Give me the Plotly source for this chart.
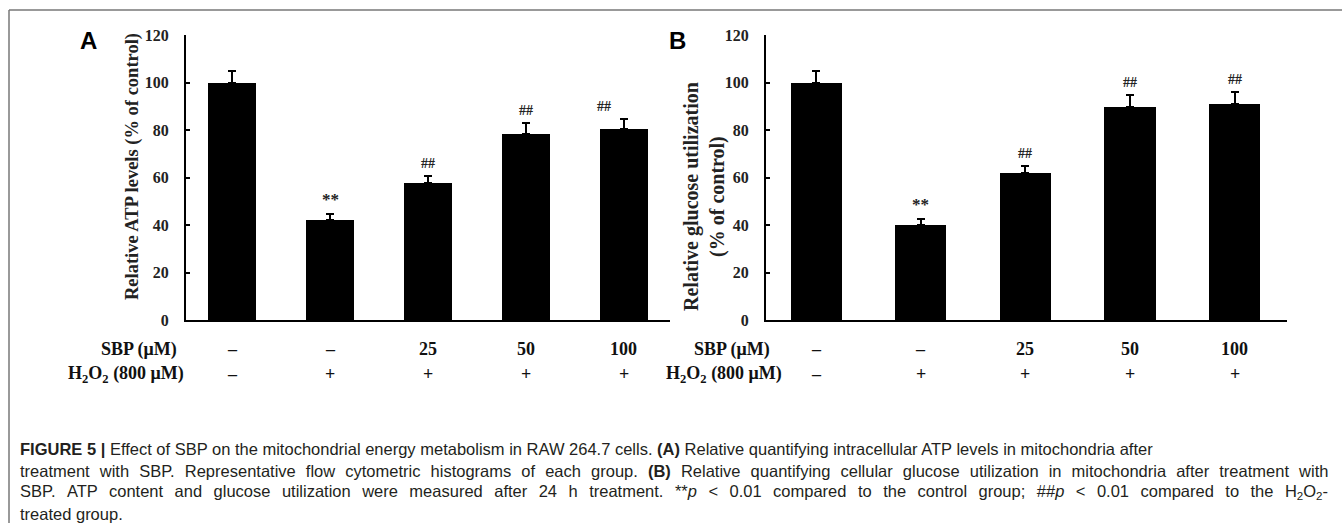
import plotly.graph_objects as go

# ---------------- data ----------------
groups = ["G1", "G2", "G3", "G4", "G5"]
sbp_labels = ["–", "–", "25", "50", "100"]
h2o2_labels = ["–", "+", "+", "+", "+"]

atp_values = [100, 42, 57.5, 78.5, 80.5]
atp_errors = [5, 2.5, 3.3, 4.3, 4.2]
atp_marks = ["", "**", "##", "##", "##"]

glu_values = [100, 40.2, 61.7, 89.7, 90.8]
glu_errors = [5, 2.3, 3.3, 5.0, 5.0]
glu_marks = ["", "**", "##", "##", "##"]

y_ticks = [0, 20, 40, 60, 80, 100, 120]

W, H = 1342, 523
def px(x):
    return x / W
def py(y):
    return 1 - y / H

SERIF = "Liberation Serif"
SANS = "Liberation Sans"

fig = go.Figure()
idx = list(range(len(groups)))

for vals, errs, xa, ya in [(atp_values, atp_errors, "x", "y"),
                           (glu_values, glu_errors, "x2", "y2")]:
    fig.add_trace(go.Bar(
        x=idx, y=vals, xaxis=xa, yaxis=ya, width=0.49,
        marker=dict(color="black", line=dict(width=0)),
        error_y=dict(type="data", array=errs, arrayminus=[0] * len(errs),
                     symmetric=False, color="black", thickness=2, width=4),
        showlegend=False, hoverinfo="skip"))

ydom = [py(320), py(35)]
common_y = dict(range=[0, 120], tickvals=y_ticks, ticks="inside", ticklen=4,
                tickwidth=2, tickcolor="black", showline=True, linecolor="black",
                linewidth=2, showgrid=False, zeroline=False, automargin=False,
                tickfont=dict(family=SERIF, size=16, color="#222", weight="bold"),
                ticklabelstandoff=12, fixedrange=True)
common_x = dict(showline=True, linecolor="black", linewidth=2, showgrid=False,
                zeroline=False, showticklabels=False, ticks="", fixedrange=True,
                automargin=False)

fig.update_layout(
    width=W, height=H, margin=dict(l=0, r=0, t=0, b=0, pad=0, autoexpand=False),
    paper_bgcolor="white", plot_bgcolor="white",
    bargap=0,
    xaxis=dict(domain=[px(186), px(670)], range=[-0.47, 4.47], anchor="y", **common_x),
    yaxis=dict(domain=ydom, anchor="x", **common_y),
    xaxis2=dict(domain=[px(766), px(1287)], range=[-0.48, 4.5], anchor="y2", **common_x),
    yaxis2=dict(domain=ydom, anchor="x2", **common_y),
)

def A(**kw):
    kw.setdefault("showarrow", False)
    kw.setdefault("xanchor", "center")
    kw.setdefault("yanchor", "middle")
    return kw

ann = []
# significance marks
xshifts = [0, 0, 0, 0, -20]
for vals, errs, marks, xr, yr, xs in [
        (atp_values, atp_errors, atp_marks, "x", "y", xshifts),
        (glu_values, glu_errors, glu_marks, "x2", "y2", [0] * 5)]:
    for i, m in enumerate(marks):
        if not m:
            continue
        ann.append(A(x=i, y=vals[i] + errs[i], xref=xr, yref=yr, text=m,
                     yanchor="bottom", yshift=3, xshift=xs[i],
                     font=dict(family=SERIF, size=17 if m == "**" else 14,
                               color="#222", weight="bold")))

# row labels under bars
rowfont = dict(family=SERIF, size=18, color="#111", weight="bold")
for xr, sbp_cx, h_cx in [("x", 139, 126), ("x2", 732, 724)]:
    ann.append(A(x=px(sbp_cx), y=py(349), xref="paper", yref="paper",
                 text="SBP (μM)", font=rowfont))
    ann.append(A(x=px(h_cx), y=py(374), xref="paper", yref="paper",
                 text="H<sub>2</sub>O<sub>2</sub> (800 μM)", font=rowfont))
    for i in idx:
        ann.append(A(x=i, y=py(349), xref=xr, yref="paper", text=sbp_labels[i],
                     font=rowfont))
        ann.append(A(x=i, y=py(374), xref=xr, yref="paper", text=h2o2_labels[i],
                     font=rowfont))

# axis titles
ann.append(A(x=px(132), y=py(167), xref="paper", yref="paper",
             text="Relative ATP levels (% of control)", textangle=-90,
             font=dict(family=SERIF, size=18.5, color="#222", weight="bold")))
ann.append(A(x=px(704), y=py(197), xref="paper", yref="paper",
             text="Relative glucose utilization<br>(% of control)", textangle=-90,
             font=dict(family=SERIF, size=20, color="#222", weight="bold")))

# panel letters
for letter, lx in [("A", 88), ("B", 677)]:
    ann.append(A(x=px(lx), y=py(41), xref="paper", yref="paper", text=letter,
                 font=dict(family=SANS, size=24, color="black", weight="bold")))

# caption (lines 2 and 3 are justified in the reference -> widen word gaps)
caption_lines = [
    ("<b>FIGURE 5 |</b> Effect of SBP on the mitochondrial energy metabolism in RAW 264.7 cells. "
     "<b>(A)</b> Relative quantifying intracellular ATP levels in mitochondria after", " "),
    ("treatment with SBP. Representative flow cytometric histograms of each group. "
     "<b>(B)</b> Relative quantifying cellular glucose utilization in mitochondria after treatment with",
     " \u2004"),
    ("SBP. ATP content and glucose utilization were measured after 24 h treatment. "
     "**<i>p</i> &lt; 0.01 compared to the control group; ##<i>p</i> &lt; 0.01 compared to the "
     "H<sub>2</sub>O<sub>2</sub>-", " \u2004\u200a"),
    ("treated group.", " "),
]
for k, (line, gap) in enumerate(caption_lines):
    ann.append(A(x=px(18), y=py(449 + k * 21.7), xref="paper", yref="paper",
                 text=line.replace(" ", gap), xanchor="left",
                 font=dict(family=SANS, size=16.5, color="#231f20")))

fig.update_layout(annotations=ann)

# frame lines
fig.add_shape(type="line", xref="paper", yref="paper", x0=px(9), x1=1, y0=py(10), y1=py(10),
              line=dict(color="#777", width=1.5))
fig.add_shape(type="line", xref="paper", yref="paper", x0=px(9), x1=px(9), y0=py(10), y1=0,
              line=dict(color="#777", width=1.5))

fig.write_html("out.html", config={"displayModeBar": False, "staticPlot": True},
               post_script="document.body.style.margin='0';")
